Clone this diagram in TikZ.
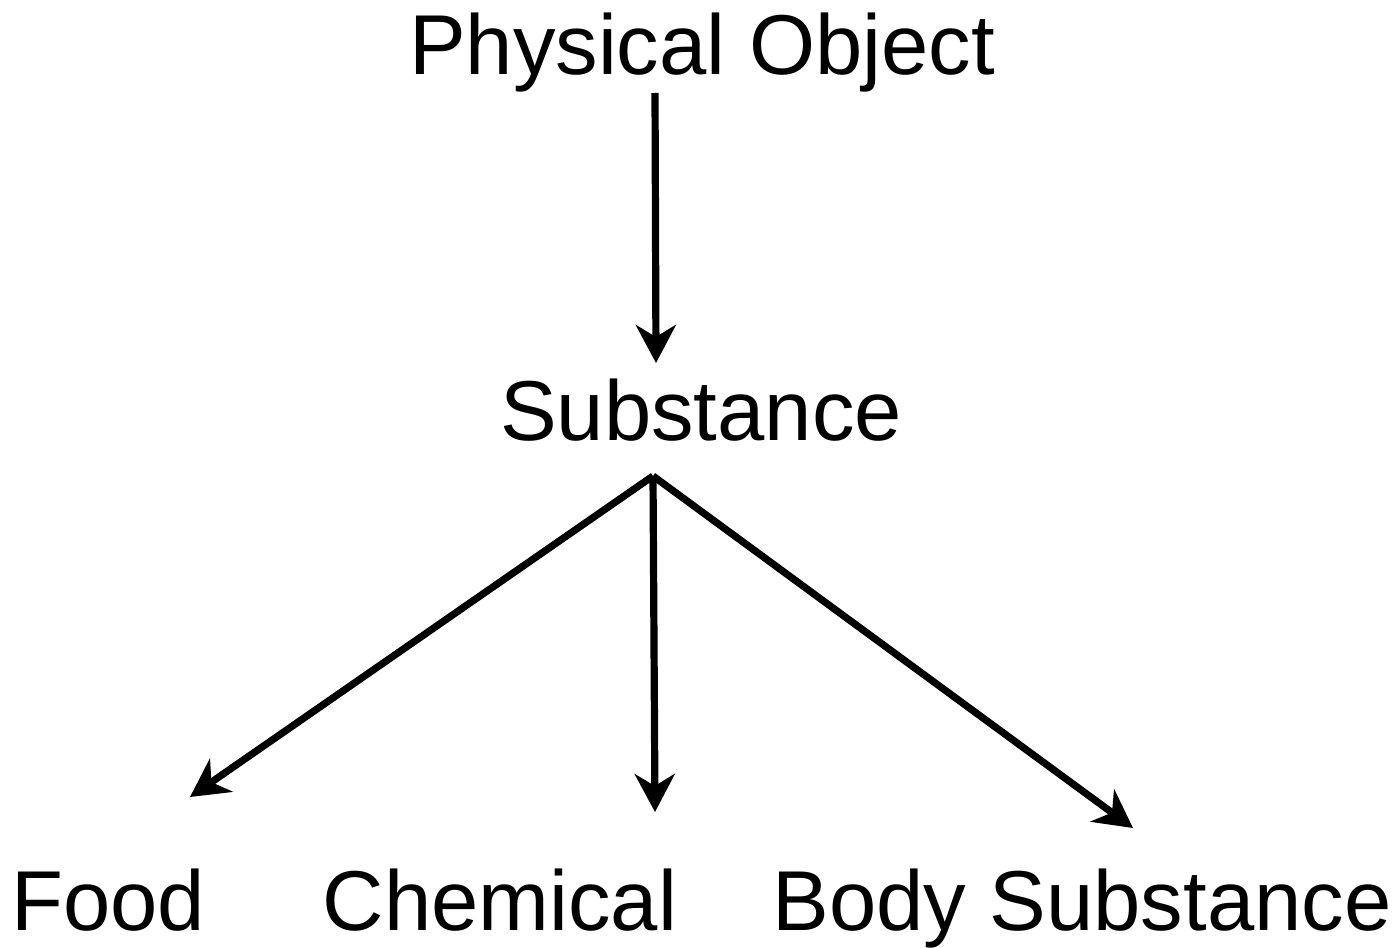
\documentclass[tikz,border=0pt]{standalone}
\usepackage{fontspec}
\setmainfont{Liberation Sans}
\usetikzlibrary{arrows.meta}
\begin{document}
\begin{tikzpicture}[x=0.5pt,y=-0.5pt,
  lbl/.style={anchor=base,inner sep=0pt,font=\fontsize{42.5}{50}\selectfont},
  arr/.style={line width=3.6pt,-{Stealth[length=19pt,width=20pt,inset=6pt]}}]
\useasboundingbox (0,0) rectangle (1400,947);
\node[lbl] (phys) at (702,75) {Physical Object};
\node[lbl] (sub) at (701,440) {Substance};
\node[lbl] (food) at (108,930) {Food};
\node[lbl] (chem) at (500,930) {Chemical};
\node[lbl] (body) at (1082,930) {Body Substance};
\coordinate (pA) at (655,93);
\coordinate (pB) at (656,363);
\coordinate (s0) at (653,476);
\coordinate (fT) at (190,797);
\coordinate (cT) at (655,812);
\coordinate (bT) at (1133,828);
\draw[arr] (pA) -- (pB);
\draw[arr] (s0) -- (fT);
\draw[arr] (s0) -- (cT);
\draw[arr] (s0) -- (bT);
\end{tikzpicture}
\end{document}
